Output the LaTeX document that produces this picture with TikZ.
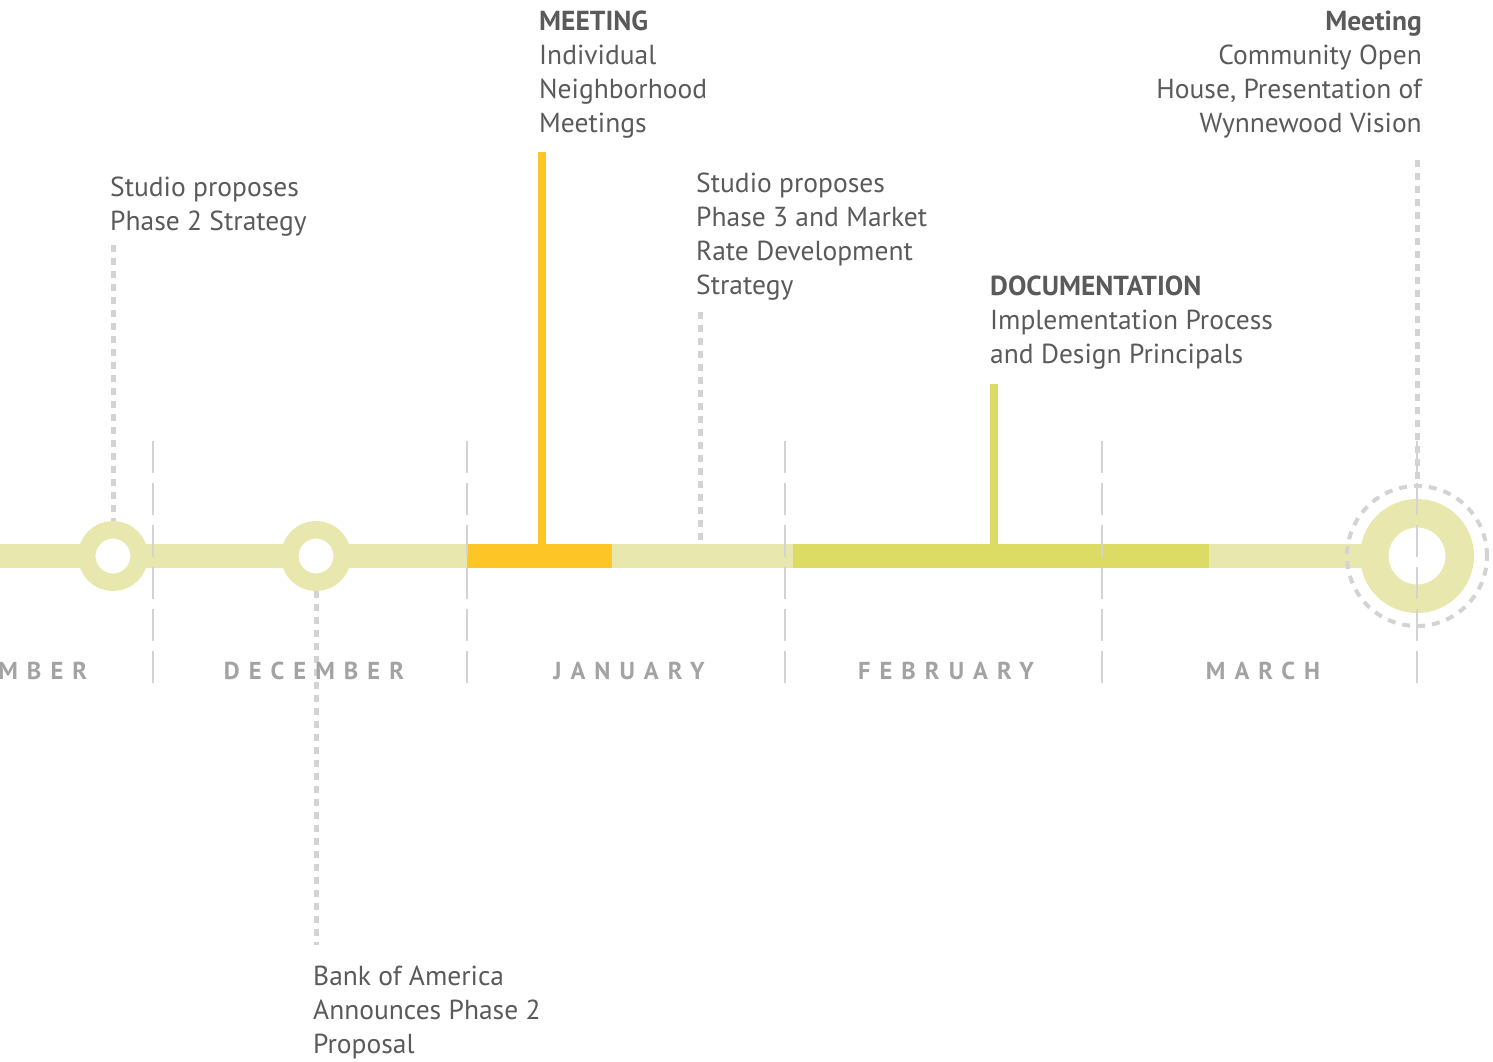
\documentclass[tikz,border=0pt]{standalone}
\usepackage{fontspec}
\setmainfont{PT Sans}
\newfontfamily\monthfont[LetterSpace=37]{PT Sans}

\definecolor{barlight}{HTML}{E8E8AE}
\definecolor{meetingyellow}{HTML}{FDC526}
\definecolor{docgreen}{HTML}{DCDC64}
\definecolor{dotgray}{HTML}{D3D3D3}
\definecolor{notegray}{HTML}{5A5A5A}
\definecolor{monthgray}{HTML}{A3A3A3}

\begin{document}
\begin{tikzpicture}[x=1pt, y=-1pt,
		note/.style={
			anchor = base west,
			align = left,
			inner sep = 0pt,
			text = notegray,
			font = \fontsize{27.5}{33.7}\selectfont},
		month/.style={
			anchor = base,
			inner sep = 0pt,
			text = monthgray,
			font = \monthfont\bfseries\fontsize{24.5}{24.5}\selectfont},
		ring/.style={circle, draw=barlight, fill=white, inner sep=0pt},
		eventline/.style={line width=5pt, dotgray, dash pattern=on 7pt off 6pt},
		monthline/.style={line width=2.5pt, dotgray, dash pattern=on 32pt off 10pt}]
	\clip (0, 0) rectangle (1493, 1061);
	% the track and its coloured stretches
	\fill[barlight] (0, 544) rectangle (1400, 568);
	\fill[meetingyellow] (467, 544) rectangle (612, 568);
	\fill[docgreen] (793, 544) rectangle (1209, 568);
	\draw[meetingyellow, line width=8pt] (542, 152) -- (542, 545);
	\draw[docgreen, line width=8pt] (994, 384) -- (994, 545);
	% milestones
	\node[ring, line width=17.5pt, minimum size=52.5pt] (nov) at (113, 556) {};
	\node[ring, line width=17.5pt, minimum size=52.5pt] (dec) at (316, 556) {};
	\node[ring, line width=28.5pt, minimum size=85.5pt] (mar) at (1417, 556) {};
	\node[circle, draw=dotgray, line width=4pt, dash pattern=on 8pt off 7pt,
		minimum size=140pt, inner sep=0pt, outer sep=0pt] (halo) at (1417, 556) {};
	% notes (placed by the baseline of their last line)
	\node[note] (phasetwo) at (110, 230) {Studio proposes\\Phase 2 Strategy};
	\node[note] (meeting) at (539, 132) {\textbf{MEETING}\\Individual\\Neighborhood\\Meetings};
	\node[note] (phasethree) at (696, 294) {Studio proposes\\Phase 3 and Market\\Rate Development\\Strategy};
	\node[note] (docs) at (990, 363) {\textbf{DOCUMENTATION}\\Implementation Process\\and Design Principals};
	\node[note, anchor=base east, align=right] (openhouse) at (1422, 132)
		{\textbf{Meeting}\\Community Open\\House, Presentation of\\Wynnewood Vision};
	\node[note] (bank) at (313, 1053) {Bank of America\\Announces Phase 2\\Proposal};
	% dotted leaders
	\coordinate (phasetwo end) at (113, 245);
	\coordinate (bank end) at (316, 945);
	\coordinate (phasethree end) at (700, 312);
	\coordinate (phasethree track) at (700, 543);
	\coordinate (openhouse end) at (1417, 160);
	\draw[eventline] (phasetwo end) -- (nov.north);
	\draw[eventline] (dec.south) -- (bank end);
	\draw[eventline] (phasethree end) -- (phasethree track);
	\draw[eventline] (openhouse end) -- (halo.north);
	% months
	\foreach \x in {153, 467, 785, 1102, 1417}
		\draw[monthline] (\x, 441) -- (\x, 685);
	\node[month] (november) at (-5, 679) {NOVEMBER};
	\node[month] (december) at (314, 679) {DECEMBER};
	\node[month] (january) at (629, 679) {JANUARY};
	\node[month] (february) at (946, 679) {FEBRUARY};
	\node[month] (march) at (1263, 679) {MARCH};
\end{tikzpicture}
\end{document}
